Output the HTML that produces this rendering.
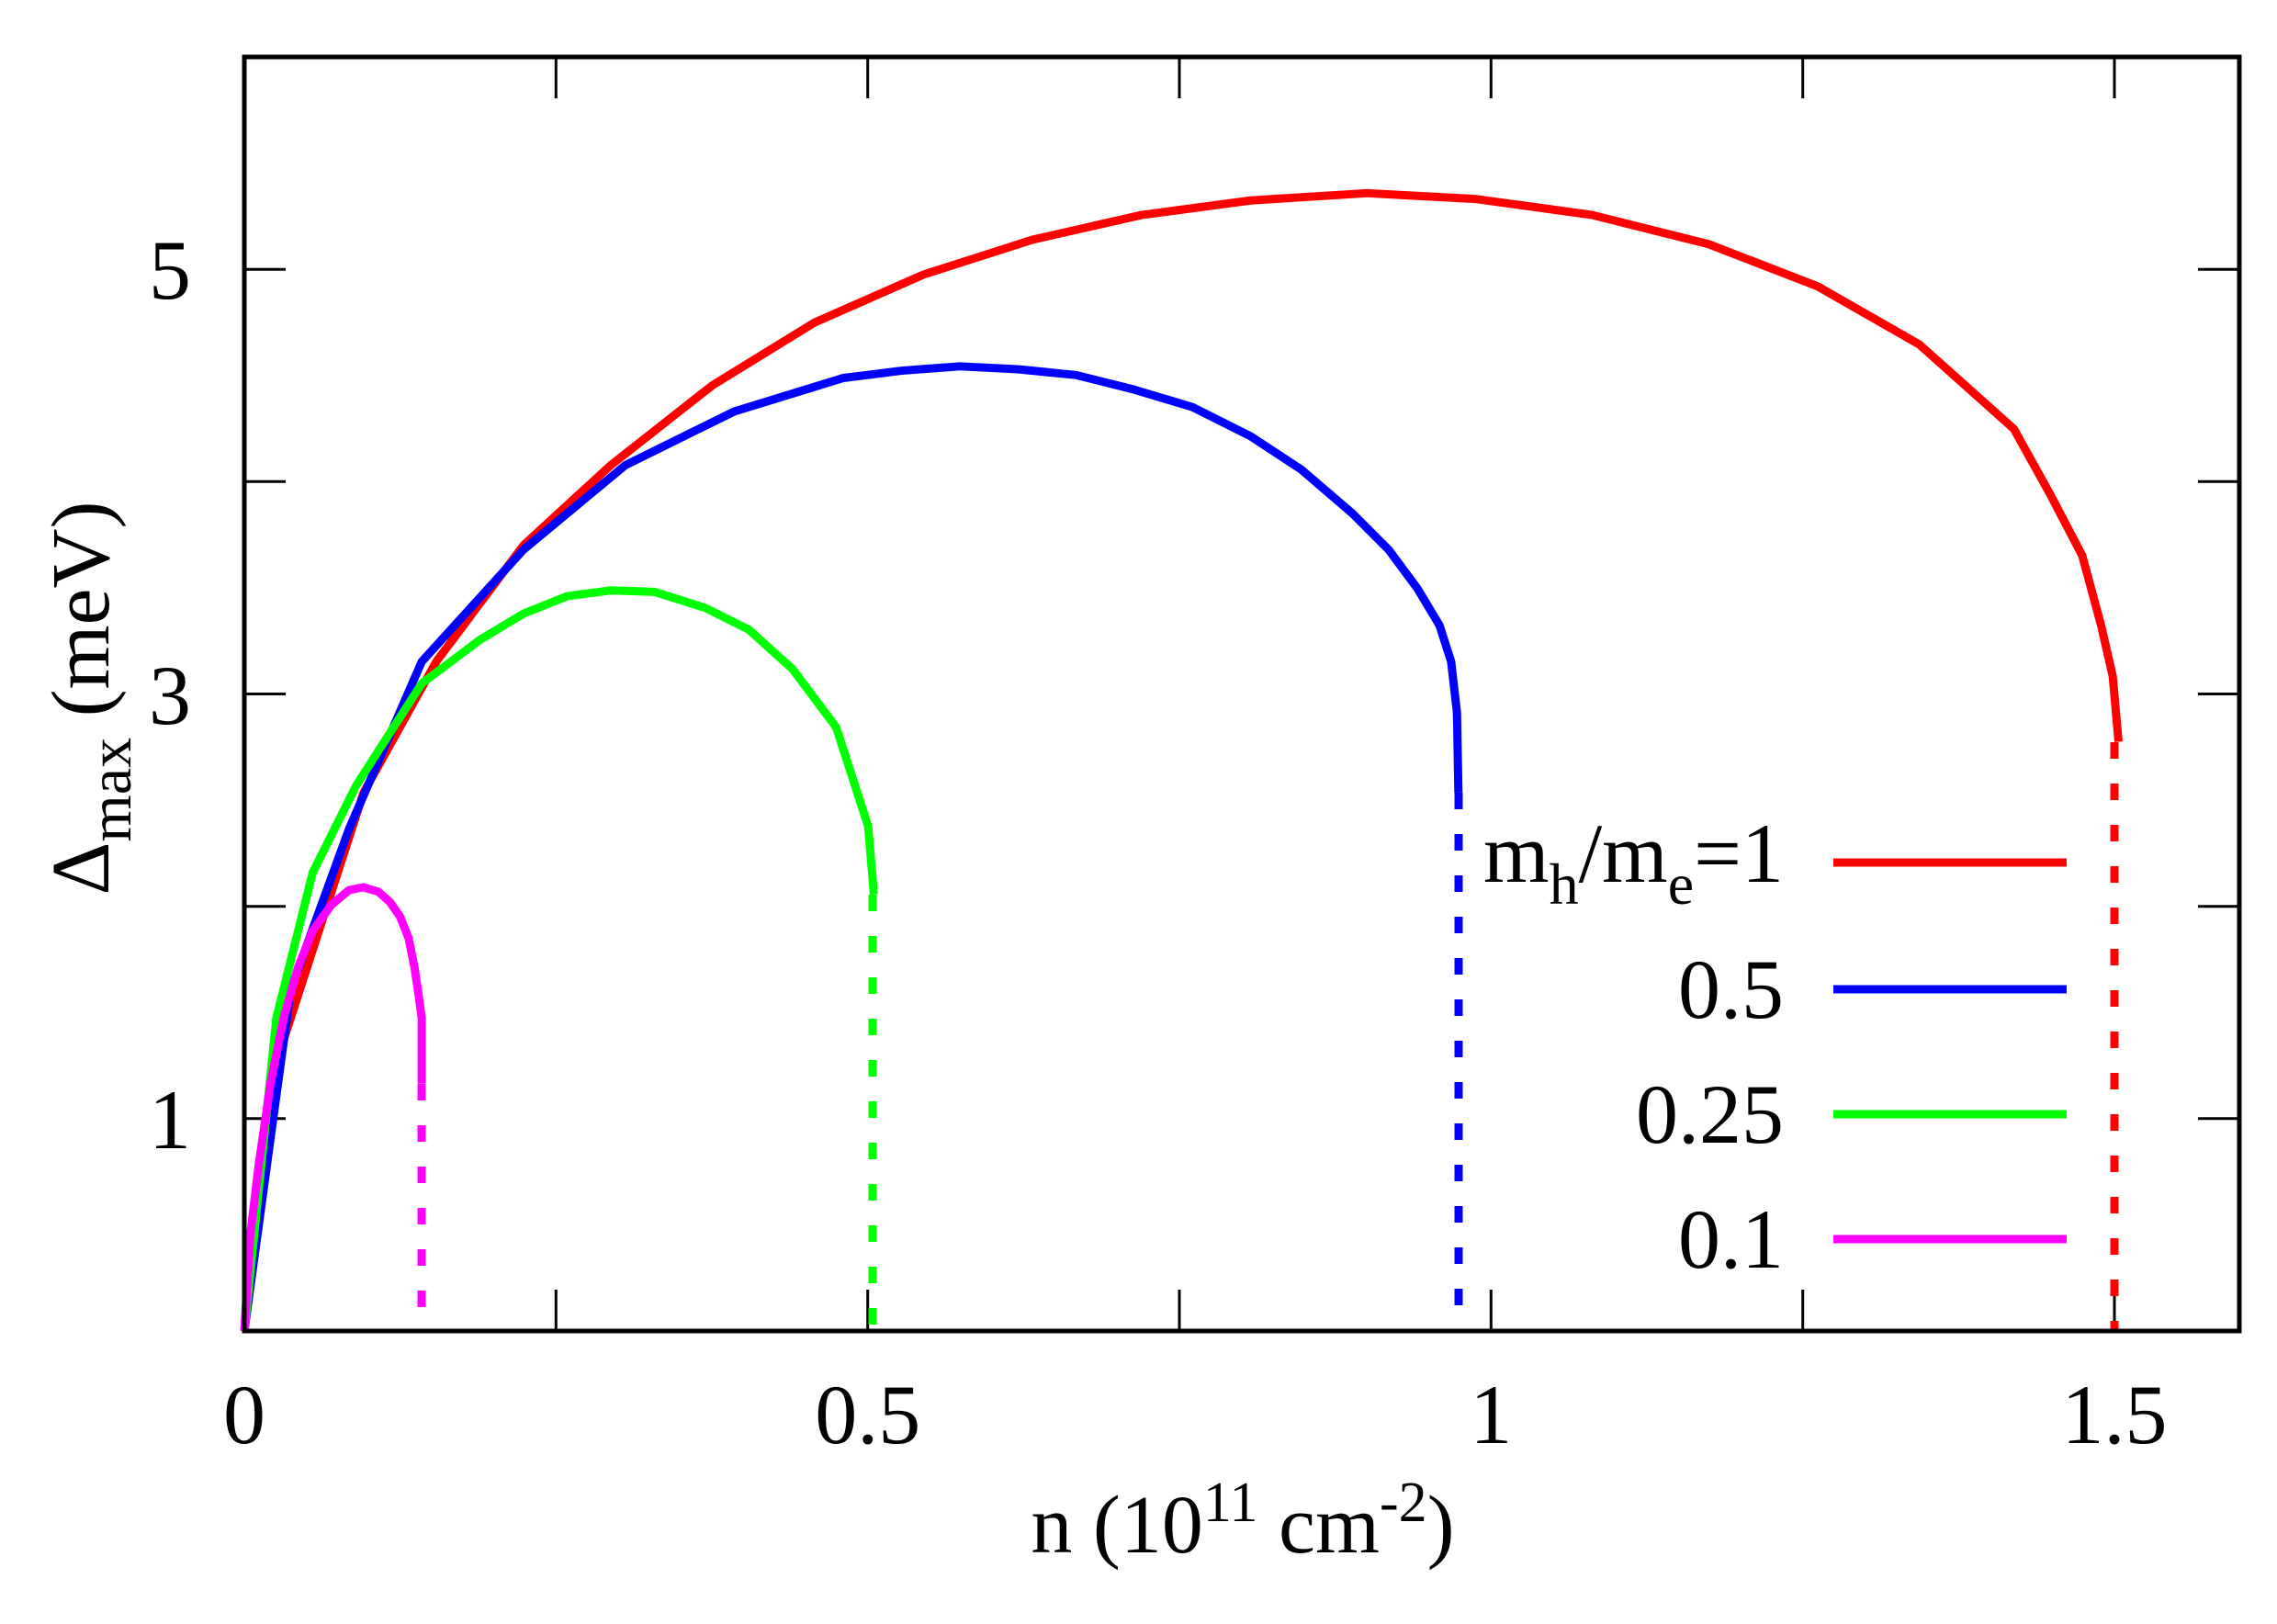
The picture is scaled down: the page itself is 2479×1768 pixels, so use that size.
<!DOCTYPE html>
<html><head><meta charset="utf-8"><style>
html,body{margin:0;padding:0;background:#fff;}
svg{display:block;}
text{font-family:"Liberation Serif",serif;fill:#000;}
</style></head><body>
<svg width="2479" height="1768" viewBox="0 0 2479 1768" xmlns="http://www.w3.org/2000/svg">
<g stroke="#000" stroke-width="3">
<path d="M605.3,1449v-45M944.7,1449v-45M1284,1449v-45M1623.3,1449v-45M1962.7,1449v-45M2302,1449v-45M605.3,62v45M944.7,62v45M1284,62v45M1623.3,62v45M1962.7,62v45M2302,62v45"/>
<path d="M266,1217.8h45M266,986.7h45M266,755.5h45M266,524.3h45M266,293.2h45M2438,1217.8h-45M2438,986.7h-45M2438,755.5h-45M2438,524.3h-45M2438,293.2h-45"/>
</g>
<g font-size="92" text-anchor="middle">
<text x="266" y="1571">0</text>
<text x="944.7" y="1571">0.5</text>
<text x="1623.3" y="1571">1</text>
<text x="2302" y="1571">1.5</text>
</g>
<g font-size="92" text-anchor="end">
<text x="208" y="1250">1</text>
<text x="208" y="788">3</text>
<text x="208" y="325">5</text>
</g>
<text x="1353" y="1690" font-size="90" text-anchor="middle">n (10<tspan font-size="62" dy="-34">11</tspan><tspan dy="34"> cm</tspan><tspan font-size="62" dy="-34">-2</tspan><tspan dy="34">)</tspan></text>
<text transform="translate(118,760) rotate(-90)" font-size="90" text-anchor="middle">Δ<tspan font-size="66" dy="24">max</tspan><tspan dy="-24"> (meV)</tspan></text>

<g fill="none" stroke-width="9" stroke-linejoin="round" transform="translate(266,1449) scale(1.583,1.584) translate(-168,-915)">
<polyline vector-effect="non-scaling-stroke" stroke="#ff0000" points="168,915 195,715 250,545 300,455 360,375 420,320 490,265 560,222 635,189 710,165 785,148 860,138 940,133 1015,137 1095,148 1175,168 1250,197 1320,237 1385,295 1410,340 1432,382 1445,430 1453,465 1457,510"/>
<polyline vector-effect="non-scaling-stroke" stroke="#0000ff" points="168,915 200,680 240,570 290,455 360,378 430,320 505,283 580,260 620,255 660,252 700,254 740,258 780,268 820,280 860,300 895,323 930,353 955,378 975,405 990,430 998,455 1002,490 1003,545"/>
<polyline vector-effect="non-scaling-stroke" stroke="#00ff00" points="168,915 190,700 215,600 245,540 290,470 330,440 360,422 390,410 420,406 450,407 485,418 515,433 545,460 575,500 597,568 601,615"/>
<polyline vector-effect="non-scaling-stroke" stroke="#ff00ff" points="168,915 172,850 178,800 186,745 195,700 205,665 215,640 228,622 240,612 250,610 260,613 268,620 275,630 281,645 285,665 288,685 290,700 290,745"/>
</g>
<g stroke-width="9" stroke-dasharray="18 27">
<line x1="2302" y1="808" x2="2302" y2="1449" stroke="#ff0000"/>
<line x1="1588" y1="863" x2="1588" y2="1449" stroke="#0000ff"/>
<line x1="950" y1="974" x2="950" y2="1449" stroke="#00ff00"/>
<line x1="459" y1="1180" x2="459" y2="1449" stroke="#ff00ff"/>
</g>
<rect x="266" y="62" width="2172" height="1387" fill="none" stroke="#000" stroke-width="5"/>
<g stroke-width="9">
<line x1="1996" y1="939" x2="2250" y2="939" stroke="#ff0000"/>
<line x1="1996" y1="1077" x2="2250" y2="1077" stroke="#0000ff"/>
<line x1="1996" y1="1213" x2="2250" y2="1213" stroke="#00ff00"/>
<line x1="1996" y1="1349" x2="2250" y2="1349" stroke="#ff00ff"/>
</g>
<g font-size="92" text-anchor="end">
<text x="1942" y="960">m<tspan font-size="64" dy="24">h</tspan><tspan dy="-24">/m</tspan><tspan font-size="64" dy="24">e</tspan><tspan dy="-24">=1</tspan></text>
<text x="1942" y="1108">0.5</text>
<text x="1942" y="1244">0.25</text>
<text x="1942" y="1380">0.1</text>
</g>
</svg>
</body></html>
